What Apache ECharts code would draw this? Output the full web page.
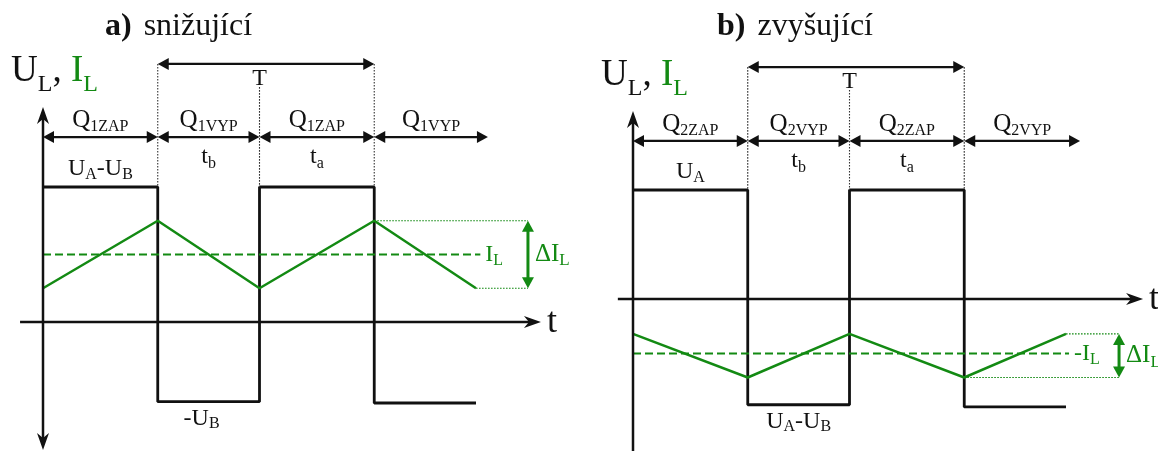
<!DOCTYPE html>
<html>
<head>
<meta charset="utf-8">
<script src="https://cdn.jsdelivr.net/npm/echarts@6/dist/echarts.min.js"></script>
<style>
  html, body { margin: 0; padding: 0; background: #fff; }
  #chart { width: 1158px; height: 451px; }
</style>
</head>
<body>
<div id="chart"></div>
<script>
// Switching instants over two periods, in units of the period T
const switchTimes = [0, 0.53, 1, 1.53, 2];

// a) buck converter: inductor voltage per interval and inductor current at each instant
const buckVoltage = [5, -2.95, 5, -3.0];
const buckCurrent = [1.25, 3.75, 1.25, 3.75, 1.25];
const buckCurrentMean = 2.5;
const buckPhases = ['1ZAP', '1VYP', '1ZAP', '1VYP'];

// b) boost converter
const boostVoltage = [5, -4.85, 5, -4.95];
const boostCurrent = [-1.6, -3.6, -1.6, -3.6, -1.6];
const boostCurrentMean = -2.5;
const boostPhases = ['2ZAP', '2VYP', '2ZAP', '2VYP'];

// duration labels under the phase row (interval index -> label)
const durationLabels = [null, ['t', 'b'], ['t', 'a'], null];

const FONT = '"Liberation Serif", "Times New Roman", serif';
const INK = '#111111';
const GREEN = '#138a13';

const panels = [
  {
    title: '{b|a)}{n|snižující}', titleLeft: 105,
    origin: [43, 322], sx: 216.5, sy: 27,
    xRange: [-0.12, 2.42], yRange: [-5, 12],
    voltage: buckVoltage, current: buckCurrent, mean: buckCurrentMean, phases: buckPhases,
    highText: '{m|U}{s|A}{m|-U}{s|B}', lowText: '{m|-U}{s|B}', meanText: '{m|I}{s|L}', lowDx: -7,
    periodRow: 9.56, phaseRow: 6.85, midGuideTop: 8.7,
    yTop: 7.96, yBottom: -4.74, bottomArrow: true, tLeft: -0.106, tRight: 2.30,
    deltaX: 2.24, meanEnd: 2.02, phaseEnd: 2.055
  },
  {
    title: '{b|b)}{n|zvyšující}', titleLeft: 717,
    origin: [633, 299], sx: 216.5, sy: 21.8,
    xRange: [-0.08, 2.43], yRange: [-7.5, 14],
    voltage: boostVoltage, current: boostCurrent, mean: boostCurrentMean, phases: boostPhases,
    highText: '{m|U}{s|A}', lowText: '{m|U}{s|A}{m|-U}{s|B}', meanText: '{m|-I}{s|L}', lowDx: 0,
    periodRow: 10.64, phaseRow: 7.25, midGuideTop: 9.59,
    yTop: 8.62, yBottom: -7.5, bottomArrow: false, tLeft: -0.07, tRight: 2.356,
    deltaX: 2.245, meanEnd: 2.014, phaseEnd: 2.065
  }
];

function gridOf(P) {
  return {
    left: P.origin[0] + P.xRange[0] * P.sx,
    top: P.origin[1] - P.yRange[1] * P.sy,
    width: (P.xRange[1] - P.xRange[0]) * P.sx,
    height: (P.yRange[1] - P.yRange[0]) * P.sy,
    containLabel: false,
    outerBoundsMode: 'none',
    show: false
  };
}

function richSet(m, s, drop) {
  const L = drop + 0.2 * s + 0.8 * m;
  const tok = (size, color, va, lh) => ({ fontSize: size, fontFamily: FONT, fill: color, verticalAlign: va, lineHeight: lh });
  return {
    L: L,
    rich: {
      m: tok(m, INK, 'top', m), s: tok(s, INK, 'bottom', L),
      gm: tok(m, GREEN, 'top', m), gs: tok(s, GREEN, 'bottom', L)
    }
  };
}

const STEALTH = { len: 17, half: 6, notch: 5 };
const DIM = { len: 11, half: 6, notch: 0 };

function overlaySeries(idx) {
  const P = panels[idx];
  return {
    type: 'custom', xAxisIndex: idx, yAxisIndex: idx, clip: false, silent: true, z: 5,
    data: [[0, 0]],
    renderItem: function (params, api) {
      const c = (x, y) => api.coord([x, y]);
      const out = [];
      const seg = (a, b, st) => out.push({
        type: 'line', shape: { x1: a[0], y1: a[1], x2: b[0], y2: b[1] },
        style: Object.assign({ stroke: INK, lineWidth: 2.4, fill: null }, st)
      });
      const head = (tip, from, spec, color) => {
        const dx = tip[0] - from[0], dy = tip[1] - from[1], n = Math.hypot(dx, dy);
        const ux = dx / n, uy = dy / n, px = -uy, py = ux;
        const bx = tip[0] - ux * spec.len, by = tip[1] - uy * spec.len;
        const ix = tip[0] - ux * (spec.len - spec.notch), iy = tip[1] - uy * (spec.len - spec.notch);
        out.push({
          type: 'polygon',
          shape: { points: [tip, [bx + px * spec.half, by + py * spec.half], [ix, iy], [bx - px * spec.half, by - py * spec.half]] },
          style: { fill: color, stroke: null }
        });
        return [tip[0] - ux * (spec.len - spec.notch - 1), tip[1] - uy * (spec.len - spec.notch - 1)];
      };
      const arrow = (a, b, spec, both, color, width) => {
        const e = head(b, a, spec, color);
        const s = both ? head(a, b, spec, color) : a;
        seg(s, e, { stroke: color, lineWidth: width });
      };
      const dotted = (a, b, color) => seg(a, b, { stroke: color, lineWidth: 1.1, lineDash: [1.6, 1.4] });
      const label = (p, str, o) => {
        const m = o.m || 24, s = o.s || 16, drop = o.drop == null ? 4 : o.drop;
        const rs = richSet(m, s, drop);
        out.push({
          type: 'text', x: p[0] + (o.dx || 0), y: p[1] + (o.dy || 0) + (rs.L - m) / 2,
          style: { text: str, align: o.align || 'center', verticalAlign: 'middle', rich: rs.rich }
        });
      };

      const t = switchTimes;
      const hi = P.voltage[0];
      const iMax = Math.max.apply(null, P.current), iMin = Math.min.apply(null, P.current);

      // axes
      arrow(c(0, P.yBottom), c(0, P.yTop), STEALTH, P.bottomArrow, INK, 2.5);
      arrow(c(P.tLeft, 0), c(P.tRight, 0), STEALTH, false, INK, 2.5);
      label(c(P.tRight, 0), '{m|t}', { m: 36, s: 20, drop: 4, align: 'left', dx: 6 });
      label(c(0, P.yTop), '{m|U}{s|L}{m|, }{gm|I}{gs|L}', { m: 37, s: 24, drop: 10, align: 'left', dx: -32, dy: -36 });

      // period T and guides
      dotted(c(t[1], P.periodRow), c(t[1], hi), '#333');
      dotted(c(t[3], P.periodRow), c(t[3], hi), '#333');
      dotted(c(t[2], P.midGuideTop), c(t[2], hi), '#333');
      arrow(c(t[1], P.periodRow), c(t[3], P.periodRow), DIM, true, INK, 2.3);
      label(c(t[2], P.periodRow), '{m|T}', { dy: 13.5 });

      // switch phase row
      const bounds = [t[0], t[1], t[2], t[3], P.phaseEnd];
      for (let k = 0; k < 4; k++) {
        arrow(c(bounds[k], P.phaseRow), c(bounds[k + 1], P.phaseRow), DIM, true, INK, 2.3);
        const mid = (bounds[k] + bounds[k + 1]) / 2;
        label(c(mid, P.phaseRow), '{m|Q}{s|' + P.phases[k] + '}', { m: 25, s: 16, drop: 4, dy: -17 });
        const d = durationLabels[k];
        if (d) label(c(mid, P.phaseRow), '{m|' + d[0] + '}{s|' + d[1] + '}', { m: 24, s: 16, drop: 4, dy: 20 });
      }

      // voltage level labels
      label(c((t[0] + t[1]) / 2, hi), P.highText, { m: 24, s: 16, drop: 3, dy: -18 });
      label(c((t[1] + t[2]) / 2, P.voltage[1]), P.lowText, { m: 24, s: 16, drop: 3, dy: 17, dx: P.lowDx });

      // current ripple annotation
      const n = t.length;
      dotted(c(t[n - 1], P.current[n - 1]), c(P.deltaX, P.current[n - 1]), GREEN);
      dotted(c(t[n - 2], P.current[n - 2]), c(P.deltaX, P.current[n - 2]), GREEN);
      arrow(c(P.deltaX, iMin), c(P.deltaX, iMax), DIM, true, GREEN, 3);
      label(c(P.deltaX, (iMin + iMax) / 2), '{gm|ΔI}{gs|L}', { m: 25, s: 17, drop: 4, align: 'left', dx: 7 });
      label(c(P.meanEnd, P.mean), P.meanText.replace(/\{m\|/g, '{gm|').replace(/\{s\|/g, '{gs|'), { m: 24, s: 16, drop: 4, align: 'left', dx: 5 });

      return { type: 'group', children: out };
    }
  };
}

const series = [];
panels.forEach((P, i) => {
  series.push({
    type: 'line', xAxisIndex: i, yAxisIndex: i, step: 'end', symbol: 'none', silent: true, z: 3,
    data: switchTimes.map((tt, k) => [tt, P.voltage[Math.min(k, P.voltage.length - 1)]]),
    lineStyle: { color: INK, width: 2.8 }
  });
  series.push({
    type: 'line', xAxisIndex: i, yAxisIndex: i, symbol: 'none', silent: true, z: 4,
    data: [[switchTimes[0], P.mean], [P.meanEnd, P.mean]],
    lineStyle: { color: GREEN, width: 2.2, type: [8, 4] }
  });
  series.push({
    type: 'line', xAxisIndex: i, yAxisIndex: i, symbol: 'none', silent: true, z: 4,
    data: switchTimes.map((tt, k) => [tt, P.current[k]]),
    lineStyle: { color: GREEN, width: 2.5 }
  });
  series.push(overlaySeries(i));
});

const titleRich = {
  b: { fontFamily: FONT, fontSize: 32, fontWeight: 'bold', color: INK },
  n: { fontFamily: FONT, fontSize: 32, fontWeight: 'normal', color: INK, padding: [0, 0, 0, 12] }
};

const option = {
  animation: false,
  backgroundColor: '#ffffff',
  title: panels.map(P => ({ text: P.title, left: P.titleLeft, top: 11, padding: 0, textStyle: { fontWeight: 'normal', rich: titleRich } })),
  grid: panels.map(gridOf),
  xAxis: panels.map((P, i) => ({ type: 'value', gridIndex: i, min: P.xRange[0], max: P.xRange[1], show: false })),
  yAxis: panels.map((P, i) => ({ type: 'value', gridIndex: i, min: P.yRange[0], max: P.yRange[1], show: false })),
  series: series
};

const chart = echarts.init(document.getElementById('chart'));
chart.setOption(option);
</script>
</body>
</html>
